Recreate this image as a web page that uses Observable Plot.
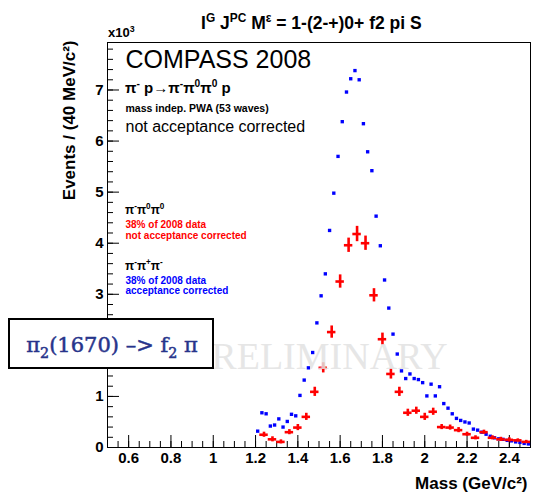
<!DOCTYPE html>
<html><head><meta charset="utf-8">
<script src="https://cdn.jsdelivr.net/npm/d3@7"></script>
<script src="https://cdn.jsdelivr.net/npm/@observablehq/plot@0.6"></script>
<style>
body{margin:0;background:#fff;}
#wrap{position:relative;width:536px;height:498px;}
</style></head><body><div id="wrap"></div>
<script>
// red: pi- pi0 pi0, 38% of 2008 data, not acceptance corrected (40 MeV bins)
const redMass = [1.24,1.28,1.32,1.36,1.40,1.44,1.48,1.52,1.56,1.60,1.64,1.68,1.72,1.76,1.80,1.84,1.88,1.92,1.96,2.00,2.04,2.08,2.12,2.16,2.20,2.24,2.28,2.32,2.36,2.40,2.44,2.48];
const redEvents = [0.25,0.16,0.11,0.30,0.39,0.60,1.09,1.56,2.26,3.25,3.96,4.18,4.00,2.98,2.12,1.44,1.09,0.68,0.72,0.60,0.70,0.40,0.39,0.34,0.26,0.19,0.30,0.19,0.16,0.15,0.14,0.11];
const redErr = [0.05,0.05,0.04,0.05,0.06,0.07,0.09,0.10,0.12,0.13,0.14,0.15,0.14,0.13,0.12,0.10,0.09,0.07,0.07,0.07,0.07,0.05,0.05,0.05,0.04,0.04,0.04,0.04,0.04,0.04,0.03,0.03];
const binHalfWidth = 0.02;
// blue: pi- pi+ pi-, 38% of 2008 data, acceptance corrected
const blueMass = [1.21,1.23,1.25,1.27,1.29,1.31,1.33,1.35,1.37,1.39,1.41,1.43,1.45,1.47,1.49,1.51,1.53,1.55,1.57,1.59,1.61,1.63,1.65,1.67,1.69,1.71,1.73,1.75,1.77,1.79,1.81,1.83,1.85,1.87,1.89,1.91,1.93,1.95,1.97,1.99,2.01,2.03,2.05,2.07,2.09,2.11,2.13,2.15,2.17,2.19,2.21,2.23,2.25,2.27,2.29,2.31,2.33,2.35,2.37,2.39,2.41,2.43,2.45,2.47,2.49];
const blueEvents = [0.32,0.68,0.66,0.42,0.44,0.56,0.40,0.51,0.65,0.62,1.02,1.32,1.56,1.86,2.44,2.97,3.40,4.25,4.98,5.70,6.38,6.96,7.22,7.38,7.20,6.34,5.79,5.42,4.53,3.95,3.28,2.73,2.22,1.83,1.50,1.35,1.44,1.35,1.33,1.27,1.01,1.24,1.01,1.19,0.86,0.77,0.66,0.57,0.53,0.50,0.48,0.36,0.34,0.30,0.26,0.22,0.19,0.17,0.16,0.14,0.13,0.11,0.10,0.08,0.07];
const xTickLabels = [0.6,0.8,1.0,1.2,1.4,1.6,1.8,2.0,2.2,2.4];
const yTickLabels = [0,1,2,3,4,5,6,7];

const red = redMass.map((m,i)=>({m, v: redEvents[i], e: redErr[i]}));
const blue = blueMass.map((m,i)=>({m, v: blueEvents[i]}));
const xMinor = d3.range(0.5, 2.5001, 0.05).map(d=>+d.toFixed(2));
const yMinor = d3.range(0, 7.9, 0.2).map(d=>+d.toFixed(1));
const SANS = "Liberation Sans, Arial, Helvetica, sans-serif";

const chart = Plot.plot({
  width: 536, height: 498,
  marginLeft: 107, marginRight: 6, marginTop: 42, marginBottom: 51,
  x: {domain: [0.5, 2.5]},
  y: {domain: [0, 7.93]},
  style: {fontFamily: SANS, background: "white", color: "black", overflow: "visible"},
  marks: [
    Plot.frame({stroke: "black", strokeWidth: 1}),
    Plot.axisX({ticks: xMinor, tickSize: -6, text: null, label: null}),
    Plot.axisX({ticks: xTickLabels, tickSize: -12, text: null, label: null}),
    Plot.axisX({ticks: xTickLabels, tickSize: 0, tickPadding: 5, label: null, fontSize: 15, fontWeight: "bold",
      tickFormat: d => String(+d.toFixed(1))}),
    Plot.axisY({ticks: yMinor, tickSize: -6, text: null, label: null}),
    Plot.axisY({ticks: yTickLabels, tickSize: -12, text: null, label: null}),
    Plot.axisY({ticks: yTickLabels, tickSize: 0, tickPadding: 4, label: null, fontSize: 15, fontWeight: "bold",
      tickFormat: d => String(d)}),
    Plot.text(["Events / (40 MeV/c²)"], {frameAnchor: "top-left", dx: -38, dy: -2, rotate: -90, textAnchor: "end",
      lineAnchor: "middle", fontSize: 17, fontWeight: "bold", fill: "black"}),
    Plot.text(["Mass (GeV/c²)"], {frameAnchor: "bottom-right", dx: -3, dy: 41, textAnchor: "end",
      lineAnchor: "bottom", fontSize: 17, fontWeight: "bold", fill: "black"}),
    // annotations
    Plot.text(["COMPASS 2008"], {frameAnchor: "top-left", dx: 18, dy: 25, textAnchor: "start", lineAnchor: "bottom", fontSize: 25, fill: "black"}),
    Plot.text(["mass indep. PWA (53 waves)"], {frameAnchor: "top-left", dx: 18, dy: 69, textAnchor: "start", lineAnchor: "bottom", fontSize: 10.5, fontWeight: "bold", fill: "black"}),
    Plot.text(["not acceptance corrected"], {frameAnchor: "top-left", dx: 18, dy: 89, textAnchor: "start", lineAnchor: "bottom", fontSize: 16, fill: "black"}),
    Plot.text(["38% of 2008 data"], {frameAnchor: "top-left", dx: 18, dy: 185, textAnchor: "start", lineAnchor: "bottom", fontSize: 10, fontWeight: "bold", fill: "#ff0000"}),
    Plot.text(["not acceptance corrected"], {frameAnchor: "top-left", dx: 18, dy: 196, textAnchor: "start", lineAnchor: "bottom", fontSize: 10, fontWeight: "bold", fill: "#ff0000"}),
    Plot.text(["38% of 2008 data"], {frameAnchor: "top-left", dx: 18, dy: 241, textAnchor: "start", lineAnchor: "bottom", fontSize: 10, fontWeight: "bold", fill: "#0000ff"}),
    Plot.text(["acceptance corrected"], {frameAnchor: "top-left", dx: 18, dy: 251, textAnchor: "start", lineAnchor: "bottom", fontSize: 10, fontWeight: "bold", fill: "#0000ff"}),
    // data
    Plot.dot(blue, {x: "m", y: "v", symbol: "square", r: 1.9, fill: "#0000ff", stroke: null}),
    Plot.ruleX(red, {x: "m", y1: d => d.v - d.e, y2: d => d.v + d.e, stroke: "#ff0000", strokeWidth: 2.6}),
    Plot.ruleY(red, {y: "v", x1: d => d.m - binHalfWidth, x2: d => d.m + binHalfWidth, stroke: "#ff0000", strokeWidth: 2.6}),
    // watermark
    Plot.text(["PRELIMINARY"], {x: 1.5, y: 1.53, textAnchor: "middle", lineAnchor: "bottom", fontSize: 38,
      fontFamily: "Liberation Serif, Times New Roman, serif", fill: "#e2e2e2", fillOpacity: 0.85})
  ]
});

const svg = d3.select(chart);
function rich(x, y, parts, size, attrs) {
  const t = svg.append("text").attr("x", x).attr("y", y).attr("font-size", size).attr("text-anchor", "start");
  for (const [k, v] of Object.entries(attrs)) t.attr(k, v);
  let shift = 0;
  for (const [s, kind] of parts) {
    const target = kind === "sup" ? -0.42 * size : kind === "sub" ? 0.28 * size : 0;
    const ts = t.append("tspan").attr("dy", target - shift).text(s);
    if (kind) ts.attr("font-size", size * 0.68);
    shift = target;
  }
  return t;
}
const bold = {"font-family": SANS, "font-weight": "bold", fill: "black"};
rich(201, 29, [["I",null],["G","sup"],[" J",null],["PC","sup"],[" M",null],["ε","sup"],[" = 1-(2-+)0+ f2 pi S",null]], 17.5, bold);
rich(108, 37, [["x10",null],["3","sup"]], 13, bold);
rich(125, 93, [["π",null],["-","sup"],[" p→π",null],["-","sup"],["π",null],["0","sup"],["π",null],["0","sup"],[" p",null]], 15, bold);
rich(125, 214, [["π",null],["-","sup"],["π",null],["0","sup"],["π",null],["0","sup"]], 12, bold);
rich(125, 270, [["π",null],["-","sup"],["π",null],["+","sup"],["π",null],["-","sup"]], 12, bold);

// highlighted box
svg.append("rect").attr("x", 9).attr("y", 319).attr("width", 204).attr("height", 49)
  .attr("fill", "white").attr("stroke", "black").attr("stroke-width", 2);
rich(112, 352, [["π",null],["2","sub"],["(1670) –> f",null],["2","sub"],[" π",null]], 21,
  {"font-family": "DejaVu Serif, serif", fill: "#27348b", "text-anchor": "middle", stroke: "#27348b", "stroke-width": 0.5});

document.getElementById("wrap").appendChild(chart);
</script></body></html>
